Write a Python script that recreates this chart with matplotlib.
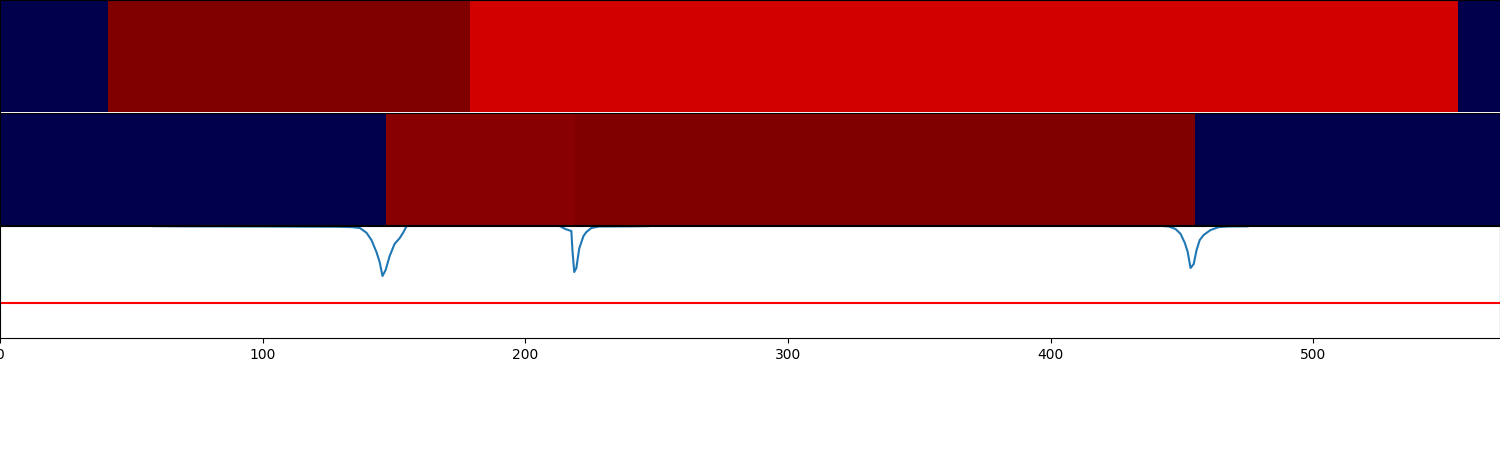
import numpy as np
import matplotlib
matplotlib.use("Agg")
import matplotlib.pyplot as plt

# Heatmap rows: segment edges (x units) and colour values on 'seismic' scale
row1_edges = [0, 41, 179, 555, 571]
row1_vals = [0.0, 1.0, 0.834, 0.0]
row2_edges = [0, 147, 219, 455, 571]
row2_vals = [0.0, 0.983, 1.0, 0.0]

# Signal curve
sig_x = [0, 55, 58, 70, 100, 129, 134, 137, 139.5, 141.4, 143.3, 144.5, 145.6, 146.8,
         148.3, 150.2, 152.1, 153.6, 154.8, 156, 210, 213, 215.2, 217.5, 217.9, 218.6,
         219.4, 220.5, 222.1, 223.2, 225.1, 228.1, 240, 247, 250, 440, 443, 444.9,
         447.5, 449.4, 451, 452.1, 453.2, 454.4, 455.5, 456.7, 458.2, 460.8, 463.9,
         467.7, 475, 479, 571]
sig_y = [1.03, 1.03, 0.999, 0.997, 0.996, 0.993, 0.99, 0.982, 0.94, 0.875, 0.768, 0.68,
         0.554, 0.607, 0.73, 0.84, 0.89, 0.946, 1.0, 1.03, 1.03, 1.0, 0.973, 0.955, 0.786,
         0.589, 0.625, 0.80, 0.91, 0.946, 0.982, 0.996, 0.997, 0.999, 1.03, 1.03, 0.999,
         0.996, 0.973, 0.93, 0.85, 0.77, 0.625, 0.66, 0.786, 0.875, 0.92, 0.964, 0.99,
         0.996, 0.997, 1.03, 1.03]
threshold = 0.31

XMAX = 571

fig = plt.figure(figsize=(15, 4.5), dpi=100)
H = 112 / 450
ax3 = fig.add_axes([0, 112 / 450, 1, H])
ax2 = fig.add_axes([0, 225 / 450, 1, H])
ax1 = fig.add_axes([0, 338.2 / 450, 1, 111.8 / 450])

for ax, edges, vals in [(ax1, row1_edges, row1_vals), (ax2, row2_edges, row2_vals)]:
    ax.pcolormesh(np.array(edges), np.array([0, 1]), np.array([vals]),
                  cmap="seismic", vmin=0, vmax=1)
    ax.set_xlim(0, XMAX)
    ax.set_ylim(0, 1)
    ax.set_xticks([])
    ax.set_yticks([])
ax1.spines["bottom"].set_visible(False)

ax3.plot(sig_x, sig_y, color="#1f77b4", lw=1.5)
ax3.axhline(threshold, color="red", lw=1.5)
ax3.set_xlim(0, XMAX)
ax3.set_ylim(0, 1)
ax3.set_yticks([])
ax3.set_xticks([0, 100, 200, 300, 400, 500])

fig.savefig("out.png", dpi=100)
